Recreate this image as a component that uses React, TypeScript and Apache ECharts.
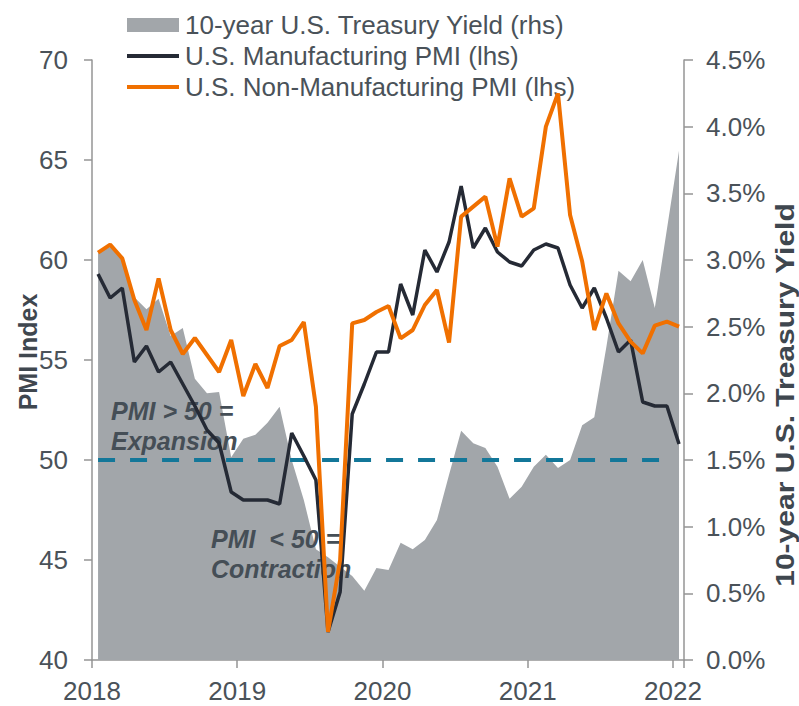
import React, { useEffect, useRef } from "react";
import * as echarts from "echarts";

const MONTHS = [
  "2018-01","2018-02","2018-03","2018-04","2018-05","2018-06","2018-07","2018-08","2018-09","2018-10","2018-11","2018-12",
  "2019-01","2019-02","2019-03","2019-04","2019-05","2019-06","2019-07","2019-08","2019-09","2019-10","2019-11","2019-12",
  "2020-01","2020-02","2020-03","2020-04","2020-05","2020-06","2020-07","2020-08","2020-09","2020-10","2020-11","2020-12",
  "2021-01","2021-02","2021-03","2021-04","2021-05","2021-06","2021-07","2021-08","2021-09","2021-10","2021-11","2021-12",
  "2022-01",
];

const MFG_PMI = [
  59.3, 58.1, 58.6, 54.9, 55.7, 54.4, 54.9, 53.8, 52.7, 51.5, 50.85, 48.4,
  48.0, 48.0, 48.0, 47.8, 51.35, 50.2, 49.0, 41.4, 43.4, 52.3, 53.8, 55.4,
  55.4, 58.8, 57.25, 60.5, 59.4, 60.9, 63.7, 60.6, 61.6, 60.4, 59.9, 59.7,
  60.5, 60.8, 60.6, 58.75, 57.6, 58.6, 57.1, 55.4, 56.0, 52.9, 52.7, 52.7,
  50.8,
];

const NONMFG_PMI = [
  60.37, 60.77, 60.08, 58.0, 56.5, 59.08, 56.5, 55.3, 56.1, 55.25, 54.4, 56.0,
  53.2, 54.8, 53.6, 55.7, 56.0, 56.9, 52.67, 41.4, 45.0, 56.83, 57.0, 57.4,
  57.7, 56.08, 56.5, 57.75, 58.5, 55.87, 62.17, 62.67, 63.17, 60.67, 64.08, 62.17,
  62.58, 66.67, 68.33, 62.25, 59.92, 56.5, 58.33, 56.83, 55.92, 55.33, 56.72, 56.92,
  56.67,
];

const TREASURY_10Y = [
  3.05, 3.1, 3.0, 2.72, 2.63, 2.71, 2.43, 2.49, 2.11, 2.0, 2.01, 1.52,
  1.66, 1.69, 1.78, 1.9, 1.5, 1.2, 0.83, 0.77, 0.7, 0.63, 0.52, 0.69,
  0.675, 0.88, 0.83, 0.9, 1.05, 1.39, 1.72, 1.625, 1.59, 1.45, 1.21, 1.3,
  1.45, 1.54, 1.44, 1.5, 1.76, 1.82, 2.35, 2.92, 2.84, 3.0, 2.64, 3.23,
  3.82,
];

const THRESHOLD = 50;
const X_MIN = 2018;
const X_MAX = 2022.076;

const SERIES_NAMES = [
  "10-year U.S. Treasury Yield (rhs)",
  "U.S. Manufacturing PMI (lhs)",
  "U.S. Non-Manufacturing PMI (lhs)",
];

const FONT = "'Liberation Sans', Arial, sans-serif";
const TEXT_COLOR = "#4a5259";
const AXIS_COLOR = "#959595";

function monthToX(m: string): number {
  const [y, mm] = m.split("-").map(Number);
  return y + (mm - 0.5) / 12;
}

export default function App() {
  const ref = useRef<HTMLDivElement>(null);

  useEffect(() => {
    if (!ref.current) return;
    const chart = echarts.init(ref.current, undefined, { renderer: "svg" });
    const xs = MONTHS.map(monthToX);
    const pair = (vals: number[]) => vals.map((v, i) => [xs[i], v]);
    const lineIcon = "path://M0,0L52,0L52,4L0,4Z";

    chart.setOption({
      animation: false,
      textStyle: { fontFamily: FONT },
      grid: { left: 92, right: 115, top: 60, bottom: 46, containLabel: false },
      legend: {
        orient: "vertical",
        left: 127,
        top: 12,
        padding: 0,
        itemGap: 5,
        itemWidth: 52,
        itemHeight: 14,
        textStyle: { fontSize: 26, color: TEXT_COLOR, fontFamily: FONT, lineHeight: 24, padding: [0, 0, 0, 1] },
        data: [
          { name: SERIES_NAMES[0], icon: "rect", itemStyle: { color: "#a2a6aa" } },
          { name: SERIES_NAMES[1], icon: lineIcon, itemStyle: { color: "#252a35" } },
          { name: SERIES_NAMES[2], icon: lineIcon, itemStyle: { color: "#f07000" } },
        ],
      },
      xAxis: {
        type: "value",
        min: X_MIN,
        max: X_MAX,
        interval: 1,
        axisLine: { show: true, lineStyle: { color: AXIS_COLOR, width: 1.5 } },
        axisTick: { show: true, length: 8, lineStyle: { color: AXIS_COLOR, width: 1.5 } },
        splitLine: { show: false },
        axisLabel: {
          fontSize: 26,
          color: TEXT_COLOR,
          fontFamily: FONT,
          margin: 18,
          formatter: (v: number) => (Math.abs(v - Math.round(v)) < 1e-6 ? String(Math.round(v)) : ""),
        },
      },
      yAxis: [
        {
          type: "value",
          min: 40,
          max: 70,
          interval: 5,
          position: "left",
          axisLine: { show: true, lineStyle: { color: AXIS_COLOR, width: 1.5 } },
          axisTick: { show: true, length: 8, lineStyle: { color: AXIS_COLOR, width: 1.5 } },
          splitLine: { show: false },
          axisLabel: { fontSize: 26, color: TEXT_COLOR, fontFamily: FONT, margin: 24 },
        },
        {
          type: "value",
          min: 0,
          max: 4.5,
          interval: 0.5,
          position: "right",
          axisLine: { show: true, lineStyle: { color: AXIS_COLOR, width: 1.5 } },
          axisTick: { show: true, length: 9, lineStyle: { color: AXIS_COLOR, width: 1.5 } },
          splitLine: { show: false },
          axisLabel: {
            fontSize: 26,
            color: TEXT_COLOR,
            fontFamily: FONT,
            margin: 22,
            formatter: (v: number) => v.toFixed(1) + "%",
          },
        },
      ],
      graphic: [
        {
          type: "text",
          x: 28,
          y: 352,
          rotation: Math.PI / 2,
          z: 5,
          style: { text: "PMI Index", font: `bold 25px ${FONT}`, fill: "#3f474f", align: "center", verticalAlign: "middle" },
        },
        {
          type: "text",
          x: 785,
          y: 395,
          rotation: Math.PI / 2,
          scaleX: 1.2,
          z: 5,
          style: { text: "10-year U.S. Treasury Yield", font: `bold 25px ${FONT}`, fill: "#3f474f", align: "center", verticalAlign: "middle" },
        },
        {
          type: "text",
          x: 111,
          y: 411,
          z: 2,
          style: { text: "PMI > 50 =", font: `italic bold 25px ${FONT}`, fill: "#454e56", align: "left", verticalAlign: "middle" },
        },
        {
          type: "text",
          x: 111,
          y: 441,
          z: 2,
          style: { text: "Expansion", font: `italic bold 25px ${FONT}`, fill: "#454e56", align: "left", verticalAlign: "middle" },
        },
        {
          type: "text",
          x: 211,
          y: 539,
          z: 2,
          style: { text: "PMI  < 50 =", font: `italic bold 25px ${FONT}`, fill: "#454e56", align: "left", verticalAlign: "middle" },
        },
        {
          type: "text",
          x: 211,
          y: 569,
          z: 2,
          style: { text: "Contraction", font: `italic bold 25px ${FONT}`, fill: "#454e56", align: "left", verticalAlign: "middle" },
        },
      ],
      series: [
        {
          name: SERIES_NAMES[0],
          type: "line",
          yAxisIndex: 1,
          data: pair(TREASURY_10Y),
          symbol: "none",
          z: 1,
          lineStyle: { width: 0, color: "#a2a6aa" },
          itemStyle: { color: "#a2a6aa" },
          areaStyle: { color: "#a2a6aa", opacity: 1 },
        },
        {
          name: "threshold",
          type: "line",
          yAxisIndex: 0,
          data: [
            [xs[0], THRESHOLD],
            [xs[47], THRESHOLD],
          ],
          symbol: "none",
          z: 2,
          lineStyle: { width: 4, color: "#137799", type: [17, 15] },
          silent: true,
        },
        {
          name: SERIES_NAMES[1],
          type: "line",
          yAxisIndex: 0,
          data: pair(MFG_PMI),
          symbol: "none",
          z: 3,
          lineStyle: { width: 3.5, color: "#252a35" },
          itemStyle: { color: "#252a35" },
        },
        {
          name: SERIES_NAMES[2],
          type: "line",
          yAxisIndex: 0,
          data: pair(NONMFG_PMI),
          symbol: "none",
          z: 4,
          lineStyle: { width: 4, color: "#f07000" },
          itemStyle: { color: "#f07000" },
        },
      ],
    });

    return () => chart.dispose();
  }, []);

  return <div ref={ref} style={{ width: 799, height: 706, position: "absolute", left: 0, top: 0 }} />;
}
